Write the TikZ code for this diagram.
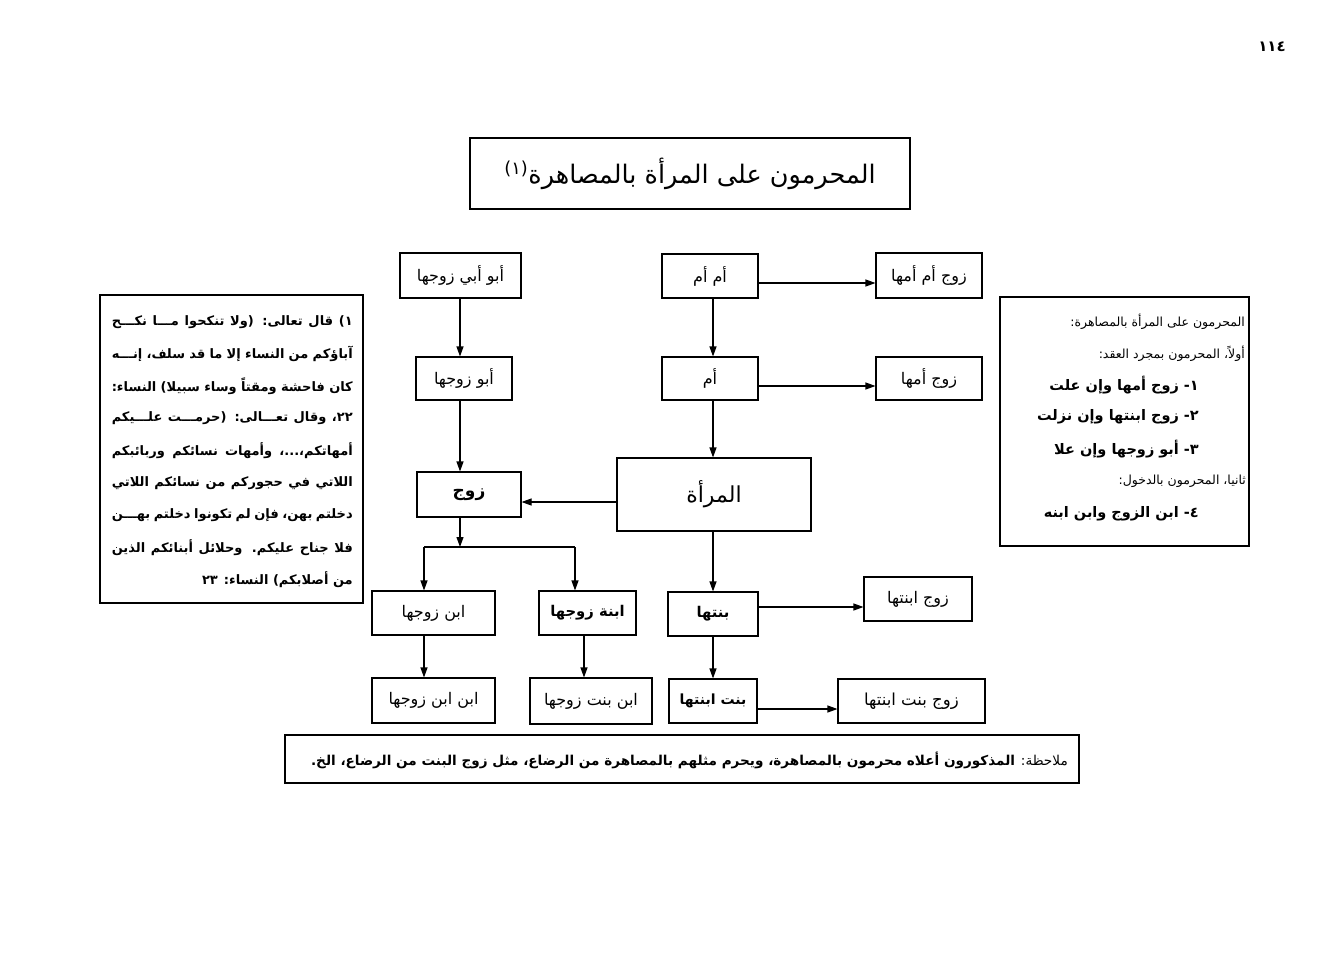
\documentclass[tikz,border=0pt]{standalone}
\usepackage{fontspec}
\usetikzlibrary{arrows.meta}
\TeXXeTstate=1
\newfontfamily\arfont[Script=Arabic]{DejaVu Sans}
\newcommand{\AR}[1]{{\arfont\beginR #1\endR}}
\newcommand{\fsz}[1]{\fontsize{#1bp}{#1bp}\selectfont}
\newcommand{\jline}[1]{\hbox to 241bp{\arfont\bfseries\fsz{13}\beginR #1\endR}}
\tikzset{
  bx/.style={draw, line width=1.1bp, inner sep=0pt, align=center, font=\fsz{16}},
  bxb/.style={bx, font=\fsz{14.8}\bfseries},
  arr/.style={line width=1.1bp, -{Triangle[length=10bp,width=7bp]}},
  conn/.style={line width=1.1bp},
  txt/.style={inner sep=0pt, anchor=east},
}
\begin{document}
\begin{tikzpicture}[x=1bp,y=-1bp]
\useasboundingbox (0,0) rectangle (1326,965);
\fill[white] (0,0) rectangle (1326,965);

% page number
\node[inner sep=0pt, font=\fsz{15}] (pg) at (1272,47) {\AR{\bfseries ١١٤}};

% title
\node[bx, minimum width=440bp, minimum height=71bp, font=\fsz{25.5}] (title) at (690,173.5)
  {\AR{المحرمون على المرأة بالمصاهرة\textsuperscript{(١)}}};

% footnote panel
\node[bx, minimum width=263bp, minimum height=308bp] (foot) at (231.5,449) {};
\node[txt] (f1) at (353,322) {\jline{١) قال تعالى: (ولا تنكحوا مـــا نكـــح}};
\node[txt] (f2) at (353,354) {\jline{آباؤكم من النساء إلا ما قد سلف، إنـــه}};
\node[txt] (f3) at (353,386) {\jline{كان فاحشة ومقتاً وساء سبيلا) النساء:}};
\node[txt] (f4) at (353,418) {\jline{٢٢، وقال تعـــالى: (حرمـــت علـــيكم}};
\node[txt] (f5) at (353,451) {\jline{أمهاتكم،...، وأمهات نسائكم وربائبكم}};
\node[txt] (f6) at (353,483) {\jline{اللاتي في حجوركم من نسائكم اللاتي}};
\node[txt] (f7) at (353,515) {\jline{دخلتم بهن، فإن لم تكونوا دخلتم بهـــن}};
\node[txt] (f8) at (353,548) {\jline{فلا جناح عليكم. وحلائل أبنائكم الذين}};
\node[txt, font=\fsz{13}] (f9) at (353,580) {\AR{\bfseries من أصلابكم) النساء: ٢٣}};

% right panel
\node[bx, minimum width=249bp, minimum height=249bp] (rbox) at (1124.5,421.5) {};
\node[txt, font=\fsz{12.5}] (r1) at (1245,322) {\AR{المحرمون على المرأة بالمصاهرة:}};
\node[txt, font=\fsz{12.5}] (r2) at (1245,354) {\AR{أولاً، المحرمون بمجرد العقد:}};
\node[txt, font=\fsz{14.5}] (r3) at (1199,385) {\AR{\bfseries ١- زوج أمها وإن علت}};
\node[txt, font=\fsz{14.5}] (r4) at (1199,417) {\AR{\bfseries ٢- زوج ابنتها وإن نزلت}};
\node[txt, font=\fsz{14.5}] (r5) at (1199,449) {\AR{\bfseries ٣- أبو زوجها وإن علا}};
\node[txt, font=\fsz{12.5}] (r6) at (1246,481) {\AR{ثانيا، المحرمون بالدخول:}};
\node[txt, font=\fsz{14.5}] (r7) at (1199,514) {\AR{\bfseries ٤- ابن الزوج وابن ابنه}};

% diagram boxes
\node[bx, minimum width=121bp, minimum height=45bp] (abuabi) at (460.5,275.5) {\AR{أبو أبي زوجها}};
\node[bx, minimum width=96bp, minimum height=43bp] (abu) at (464,378.5) {\AR{أبو زوجها}};
\node[bxb, minimum width=104bp, minimum height=45bp, font=\fsz{17}\bfseries] (zawj) at (469,494.5) {\AR{زوج}};
\node[bx, minimum width=96bp, minimum height=44bp] (umum) at (710,276) {\AR{أم أم}};
\node[bx, minimum width=106bp, minimum height=45bp] (zumum) at (929,275.5) {\AR{زوج أم أمها}};
\node[bx, minimum width=96bp, minimum height=43bp] (umm) at (710,378.5) {\AR{أم}};
\node[bx, minimum width=106bp, minimum height=43bp] (zumm) at (929,378.5) {\AR{زوج أمها}};
\node[bx, minimum width=194bp, minimum height=73bp, font=\fsz{22}] (marah) at (714,494.5) {\AR{المرأة}};
\node[bx, minimum width=123bp, minimum height=44bp] (ibnz) at (433.5,613) {\AR{ابن زوجها}};
\node[bxb, minimum width=97bp, minimum height=44bp] (ibnaz) at (587.5,613) {\AR{ابنة زوجها}};
\node[bxb, minimum width=90bp, minimum height=44bp] (bint) at (713,614) {\AR{بنتها}};
\node[bx, minimum width=108bp, minimum height=44bp] (zbint) at (918,599) {\AR{زوج ابنتها}};
\node[bx, minimum width=123bp, minimum height=45bp] (ibnibn) at (433.5,700.5) {\AR{ابن ابن زوجها}};
\node[bx, minimum width=122bp, minimum height=46bp] (ibnbint) at (591,701) {\AR{ابن بنت زوجها}};
\node[bxb, minimum width=88bp, minimum height=44bp, font=\fsz{14}\bfseries] (bintbint) at (713,701) {\AR{بنت ابنتها}};
\node[bx, minimum width=147bp, minimum height=44bp, font=\fsz{16.5}] (zbb) at (911.5,701) {\AR{زوج بنت ابنتها}};

% note
\node[bx, minimum width=794bp, minimum height=48bp] (note) at (682,759) {};
\node[txt, font=\fsz{13.6}] (notetxt) at (1068,760)
  {\AR{ملاحظة: {\bfseries المذكورون أعلاه محرمون بالمصاهرة، ويحرم مثلهم بالمصاهرة من الرضاع، مثل زوج البنت من الرضاع، الخ.}}};

% reference coordinates
\coordinate (xL) at (460,0);
\coordinate (xM) at (713,0);
\coordinate (xA) at (424,0);
\coordinate (xB) at (575,0);
\coordinate (xB2) at (584,0);
\coordinate (yR1) at (0,283);
\coordinate (yR2) at (0,386);
\coordinate (yZ) at (0,502);
\coordinate (yJ) at (0,547);
\coordinate (yB) at (0,607);
\coordinate (yBB) at (0,709);

% connectors
\draw[arr] (abuabi.south -| xL) -- (abu.north -| xL);
\draw[arr] (abu.south -| xL) -- (zawj.north -| xL);
\draw[arr] (umum.east |- yR1) -- (zumum.west |- yR1);
\draw[arr] (umum.south -| xM) -- (umm.north -| xM);
\draw[arr] (umm.east |- yR2) -- (zumm.west |- yR2);
\draw[arr] (umm.south -| xM) -- (marah.north -| xM);
\draw[arr] (marah.west |- yZ) -- (zawj.east |- yZ);
\draw[arr] (zawj.south -| xL) -- (xL |- yJ);
\draw[conn] (xA |- yJ) -- (xB |- yJ);
\draw[arr] (xA |- yJ) -- (ibnz.north -| xA);
\draw[arr] (xB |- yJ) -- (ibnaz.north -| xB);
\draw[arr] (marah.south -| xM) -- (bint.north -| xM);
\draw[arr] (bint.east |- yB) -- (zbint.west |- yB);
\draw[arr] (ibnz.south -| xA) -- (ibnibn.north -| xA);
\draw[arr] (ibnaz.south -| xB2) -- (ibnbint.north -| xB2);
\draw[arr] (bint.south -| xM) -- (bintbint.north -| xM);
\draw[arr] (bintbint.east |- yBB) -- (zbb.west |- yBB);
\end{tikzpicture}
\end{document}
